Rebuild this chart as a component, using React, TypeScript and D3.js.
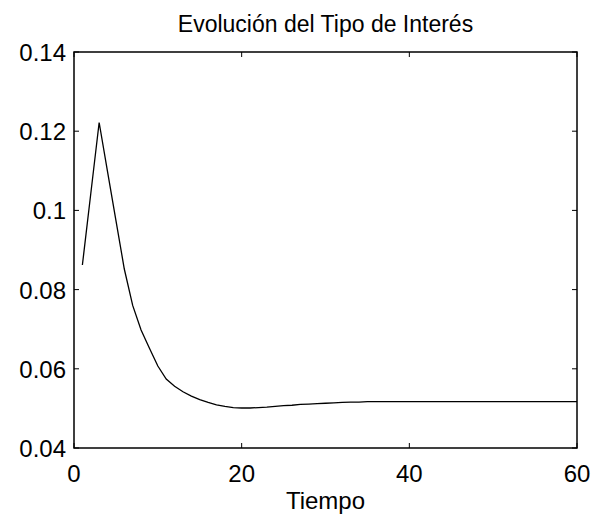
import React from 'react';
import * as d3 from 'd3';

// Interest rate path, one value per period (t = 1..60)
const tiempo: number[] = d3.range(1, 61);
const tipoInteres: number[] = [
  0.0862, 0.1042, 0.1222, 0.1098, 0.0975, 0.0852, 0.0760, 0.0698, 0.0652, 0.0607,
  0.0574, 0.0556, 0.0542, 0.0531, 0.0522, 0.0515, 0.0509, 0.0505, 0.0502, 0.0501,
  0.0501, 0.0502, 0.0503, 0.0505, 0.0507, 0.0508, 0.0510, 0.0511, 0.0512, 0.0513,
  0.0514, 0.0515, 0.0516, 0.0516, 0.0517, 0.0517, 0.0517, 0.0517, 0.0517, 0.0517,
  0.0517, 0.0517, 0.0517, 0.0517, 0.0517, 0.0517, 0.0517, 0.0517, 0.0517, 0.0517,
  0.0517, 0.0517, 0.0517, 0.0517, 0.0517, 0.0517, 0.0517, 0.0517, 0.0517, 0.0517,
];
const xTicks = [0, 20, 40, 60];
const yTicks = [0.04, 0.06, 0.08, 0.1, 0.12, 0.14];

const W = 606;
const H = 523;
const margin = { top: 52, right: 29, bottom: 75, left: 74 };
const FONT = '"Liberation Sans", Arial, Helvetica, sans-serif';

const App: React.FC = () => {
  const x = d3.scaleLinear().domain([0, 60]).range([margin.left, W - margin.right]);
  const y = d3.scaleLinear().domain([0.04, 0.14]).range([H - margin.bottom, margin.top]);

  const line = d3.line<number>()
    .x((_, i) => x(tiempo[i]))
    .y(d => y(d));

  const x0 = x.range()[0], x1 = x.range()[1];
  const y0 = y.range()[0], y1 = y.range()[1];
  const tick = 5;

  return (
    <svg width={W} height={H} style={{ position: 'absolute', left: 0, top: 0, background: '#fff' }}>
      <rect x={0} y={0} width={W} height={H} fill="#fff" />
      <text x={(x0 + x1) / 2} y={32} textAnchor="middle" fontFamily={FONT} fontSize={23} fill="#000">
        Evolución del Tipo de Interés
      </text>

      {/* ticks, mirrored on all four sides */}
      {xTicks.map(t => (
        <g key={'x' + t}>
          <line x1={x(t)} x2={x(t)} y1={y0} y2={y0 - tick} stroke="#000" />
          <line x1={x(t)} x2={x(t)} y1={y1} y2={y1 + tick} stroke="#000" />
          <text x={x(t)} y={y0 + 34} textAnchor="middle" fontFamily={FONT} fontSize={24} fill="#000">
            {t}
          </text>
        </g>
      ))}
      {yTicks.map(t => (
        <g key={'y' + t}>
          <line x1={x0} x2={x0 + tick} y1={y(t)} y2={y(t)} stroke="#000" />
          <line x1={x1} x2={x1 - tick} y1={y(t)} y2={y(t)} stroke="#000" />
          <text x={x0 - 8} y={y(t) + 9} textAnchor="end" fontFamily={FONT} fontSize={24} fill="#000">
            {d3.format('~g')(t)}
          </text>
        </g>
      ))}

      <path d={line(tipoInteres) || ''} fill="none" stroke="#000" strokeWidth={1.3} />
      <rect x={x0} y={y1} width={x1 - x0} height={y0 - y1} fill="none" stroke="#000" strokeWidth={1.5} />

      <text x={(x0 + x1) / 2} y={y0 + 61} textAnchor="middle" fontFamily={FONT} fontSize={24} fill="#000">
        Tiempo
      </text>
    </svg>
  );
};

export default App;
